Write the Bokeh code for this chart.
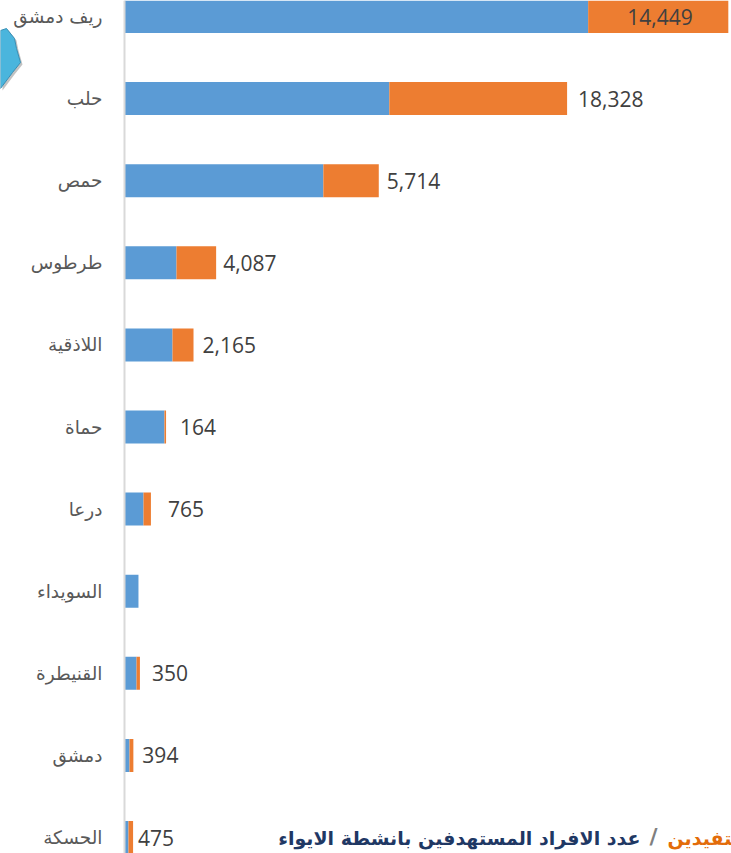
from bokeh.plotting import figure
from bokeh.models import Range1d, FixedTicker, Label, ColumnDataSource
from bokeh.core.properties import value
from bokeh.embed import file_html
from bokeh.resources import INLINE

governorates = ["ريف دمشق", "حلب", "حمص", "طرطوس", "اللاذقية", "حماة", "درعا", "السويداء", "القنيطرة", "دمشق", "الحسكة"]
targeted = [47800, 27300, 20500, 5360, 4950, 4120, 1960, 1440, 1240, 520, 410]
beneficiaries = [14449, 18328, 5714, 4087, 2165, 164, 765, 0, 350, 394, 475]
title_orange = "عدد المستفيدين"
title_slash = "/"
title_navy = "عدد الافراد المستهدفين بانشطة الايواء"

positions = list(range(len(governorates)))
W, H = 731, 853
LEFT = 124
PX_PER_UNIT = 0.0097
PX_PER_ROW = 82.1
TOP = 16

p = figure(width=W, height=H, output_backend="svg", toolbar_location=None,
           x_range=Range1d(-LEFT / PX_PER_UNIT, (W - LEFT) / PX_PER_UNIT),
           y_range=Range1d((H - TOP) / PX_PER_ROW, -TOP / PX_PER_ROW),
           min_border=0)
p.outline_line_color = None
p.grid.visible = False
p.xaxis.visible = False
p.background_fill_color = "white"

yax = p.yaxis[0]
yax.fixed_location = 0
yax.ticker = FixedTicker(ticks=positions)
yax.major_label_overrides = {i: g for i, g in enumerate(governorates)}
yax.major_tick_line_color = None
yax.minor_tick_line_color = None
yax.axis_line_color = "#d9d9d9"
yax.axis_line_width = 2
yax.major_label_text_font = "DejaVu Sans"
yax.major_label_text_font_size = "18.5px"
yax.major_label_text_color = "#595959"
yax.major_label_standoff = 16

src = ColumnDataSource(dict(y=positions, targeted=targeted, beneficiaries=beneficiaries))
p.hbar_stack(["targeted", "beneficiaries"], y="y", height=0.402, source=src,
             color=["#5b9bd5", "#ed7d31"], line_color=None)

# value labels: first sits centred inside its segment, the rest outside the bar end
gaps = [None, 11, 8, 7, 9, 14, 17, None, 12, 9, 5]
lx, ly, lt, lo = [], [], [], []
for i, (a, b, g) in enumerate(zip(targeted, beneficiaries, gaps)):
    if b == 0:
        continue
    if g is None:
        lx.append(a + b / 2); lo.append(-31)
    else:
        lx.append(a + b); lo.append(g)
    ly.append(i); lt.append(f"{b:,}")
p.text(x=lx, y=ly, text=lt, x_offset=lo, text_baseline="middle", text_align="left",
       text_font=value("Open Sans"), text_font_size="21px", text_color="#404040")

# fragment of a map picture at the left edge of the page (outline traced in page pixels)
blob_px = [0, 6, 14, 16, 20, 12, 0]
blob_py = [30, 28, 38, 48, 62, 72, 88]
to_x = lambda v: (v - LEFT) / PX_PER_UNIT
to_y = lambda v: (v - TOP) / PX_PER_ROW
p.patch([to_x(v + 2) for v in blob_px], [to_y(v + 2) for v in blob_py],
        fill_color="#9a9a9a", fill_alpha=0.6, line_color=None)
p.patch([to_x(v) for v in blob_px], [to_y(v) for v in blob_py],
        fill_color="#4ab5dd", line_color="#3a8fb5", line_width=1)

def title(text, x, color, align, size="19px"):
    p.add_layout(Label(x=x, y=5, x_units="screen", y_units="screen", text=text, text_color=color,
                       text_align=align, text_font="DejaVu Sans", text_font_style="bold",
                       text_font_size=size, text_baseline="bottom"))

title(title_navy, 640, "#1f3864", "right")
title(title_slash, 649, "#7f7f7f", "left", "22px")
title(title_orange, 667, "#e36c0a", "left")

open("out.html", "w").write(file_html(p, INLINE))
